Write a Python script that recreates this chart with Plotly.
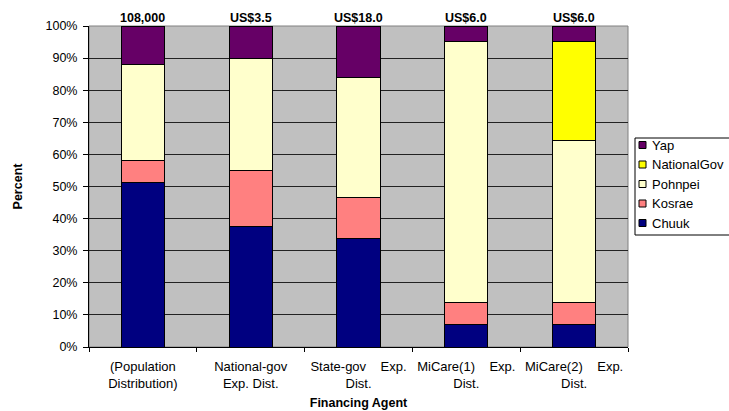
import plotly.graph_objects as go

# Financing agents (x categories) and their wrapped axis labels
agents = [
    "(Population Distribution)",
    "National-gov Exp. Dist.",
    "State-gov Exp. Dist.",
    "MiCare(1) Exp. Dist.",
    "MiCare(2) Exp. Dist.",
]
NB = "\u00a0"
agent_labels = [
    "(Population<br>Distribution)",
    "National-gov<br>Exp. Dist.",
    f"State-gov{NB*4}Exp.<br>Dist.",
    f"MiCare(1){NB*4}Exp.<br>Dist.",
    f"MiCare(2){NB*4}Exp.<br>Dist.",
]
# Totals shown above each column
totals = ["108,000", "US$3.5", "US$18.0", "US$6.0", "US$6.0"]

# Percent share by state (stacked bottom to top)
chuuk = [51.1, 37.5, 33.9, 6.9, 6.9]
kosrae = [7.1, 17.5, 12.7, 7.1, 7.1]
pohnpei = [29.7, 35.0, 37.4, 81.3, 50.4]
national_gov = [0.0, 0.0, 0.0, 0.0, 30.9]
yap = [12.1, 10.0, 16.0, 4.7, 4.7]

series = [
    ("Chuuk", chuuk, "#000080"),
    ("Kosrae", kosrae, "#FF8080"),
    ("Pohnpei", pohnpei, "#FFFFCC"),
    ("NationalGov", national_gov, "#FFFF00"),
    ("Yap", yap, "#660066"),
]

W, H = 729, 411
M_L, M_R, M_T, M_B = 89, 101, 26, 64
FONT = "Arial, Liberation Sans, sans-serif"

fig = go.Figure()
for name, vals, color in series:
    fig.add_trace(go.Bar(
        x=agents, y=vals, name=name,
        marker=dict(color=color, line=dict(color="#000000", width=1)),
        width=0.4, showlegend=False,
    ))

# Column totals above the bars
for a, t in zip(agents, totals):
    fig.add_annotation(x=a, y=100, text=f"<b>{t}</b>", showarrow=False,
                       xref="x", yref="y", yanchor="bottom", yshift=-1,
                       font=dict(family=FONT, size=12.5, color="#000000"))

# Pixel -> paper helpers for the legend box
pw = W - M_L - M_R
ph = H - M_T - M_B
def px(x):
    return (x - M_L) / pw
def py(y):
    return (H - M_B - y) / ph

shapes = [
    # plot area frame
    dict(type="rect", xref="paper", yref="paper", x0=0, x1=1, y0=0, y1=1,
         line=dict(color="#808080", width=1), layer="below"),
    # legend box
    dict(type="rect", xref="paper", yref="paper",
         x0=px(635), x1=px(740), y0=py(138), y1=py(235),
         line=dict(color="#000000", width=1), fillcolor="#FFFFFF"),
]
legend_top = 145
legend_step = 19.5
for i, (name, vals, color) in enumerate(reversed(series)):
    cy = legend_top + i * legend_step
    shapes.append(dict(type="rect", xref="paper", yref="paper",
                       x0=px(639), x1=px(646), y0=py(cy + 3.5), y1=py(cy - 3.5),
                       line=dict(color="#000000", width=1), fillcolor=color))
    fig.add_annotation(x=px(650), y=py(cy), xref="paper", yref="paper",
                       text=name, showarrow=False, xanchor="left", yanchor="middle",
                       font=dict(family=FONT, size=13, color="#000000"))

fig.update_layout(
    width=W, height=H,
    margin=dict(l=M_L, r=M_R, t=M_T, b=M_B),
    barmode="stack",
    plot_bgcolor="#C0C0C0",
    paper_bgcolor="#FFFFFF",
    font=dict(family=FONT, size=12, color="#000000"),
    shapes=shapes,
    showlegend=False,
    xaxis=dict(
        type="category", automargin=False,
        tickmode="array", tickvals=agents, ticktext=agent_labels,
        tickson="boundaries", ticks="outside", ticklen=4, tickcolor="#000000",
        ticklabelstandoff=7,
        showline=True, linecolor="#000000", linewidth=1,
        showgrid=False,
        tickfont=dict(family=FONT, size=13),
        title=dict(text="<b>Financing Agent</b>", standoff=8,
                   font=dict(family=FONT, size=12.5)),
    ),
    yaxis=dict(
        range=[0, 100], dtick=10, ticksuffix="%", automargin=False,
        ticks="outside", ticklen=5, tickcolor="#000000",
        ticklabelstandoff=3,
        showline=True, linecolor="#000000", linewidth=1,
        showgrid=True, gridcolor="#222222", gridwidth=1,
        zeroline=False,
        tickfont=dict(family=FONT, size=12.5),
        title=dict(text="<b>Percent</b>", standoff=20,
                   font=dict(family=FONT, size=12.5)),
    ),
)

fig.write_html("out.html")
